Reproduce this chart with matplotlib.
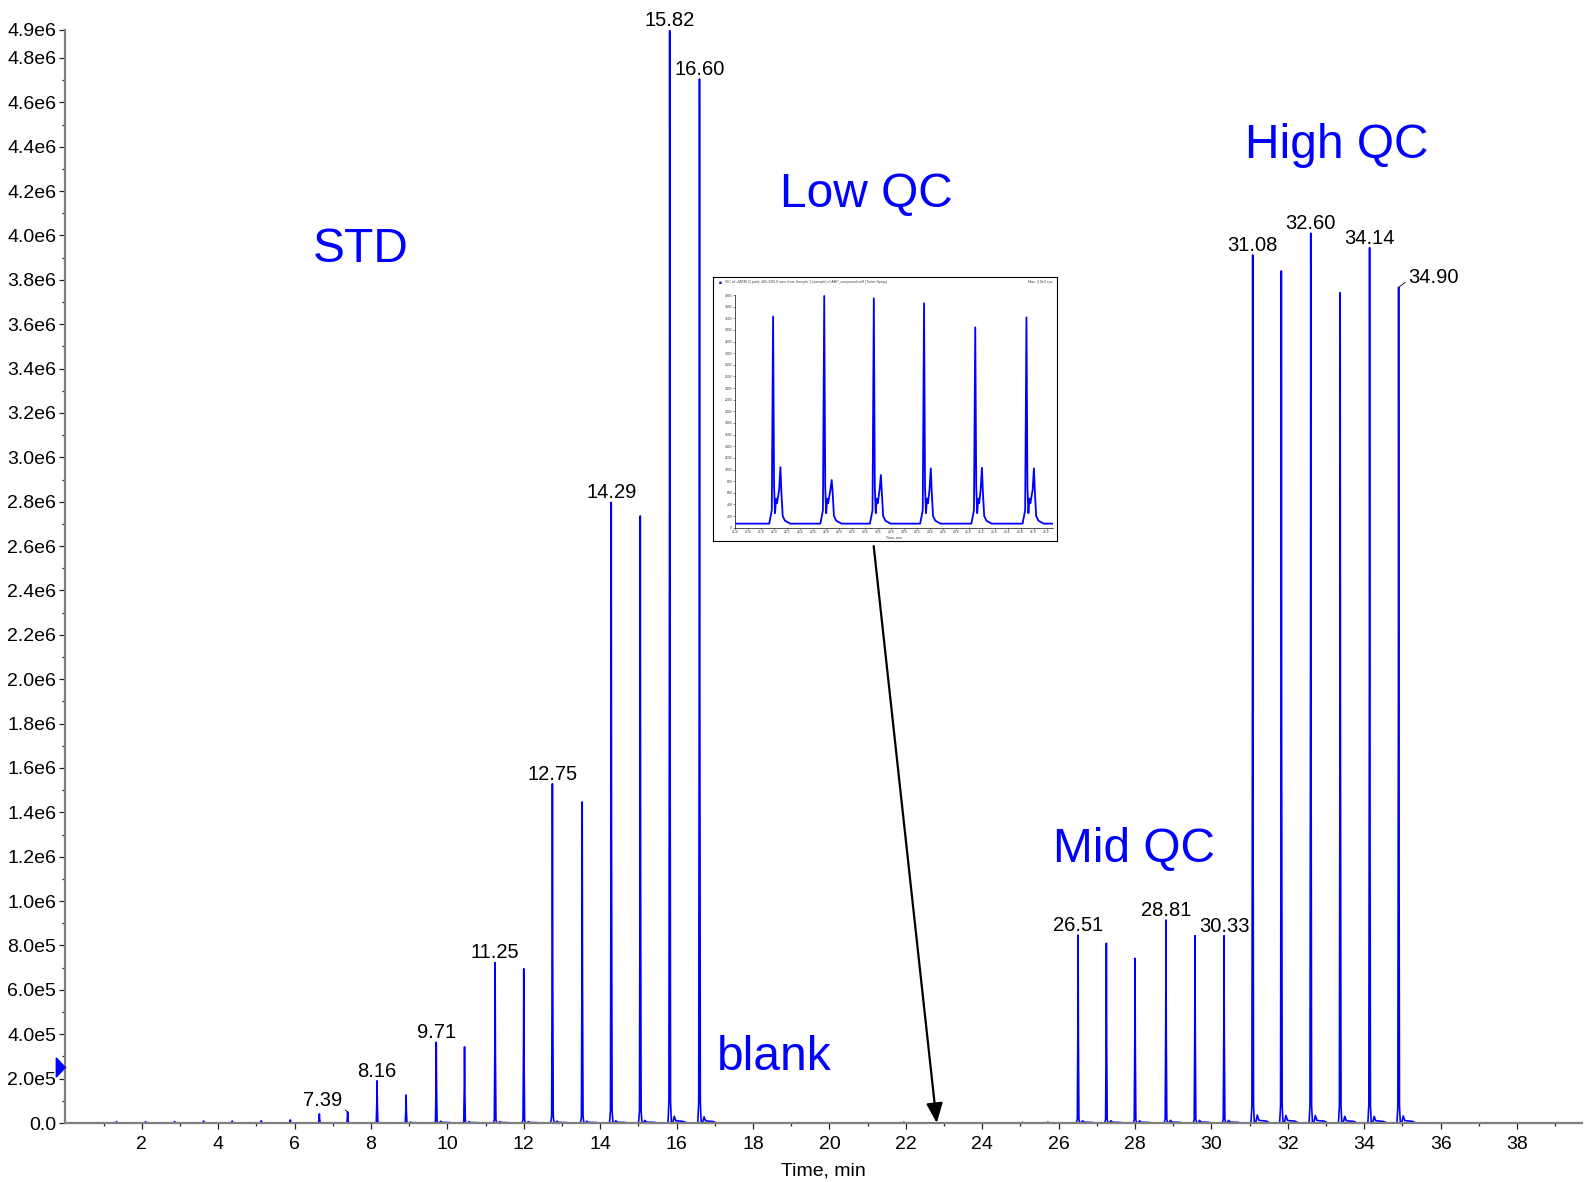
import matplotlib
matplotlib.use("Agg")
import matplotlib.pyplot as plt
from matplotlib.patches import Polygon
import numpy as np

plt.rcParams['font.family'] = ['Liberation Sans', 'DejaVu Sans']

# ---------------- data ----------------
# STD peaks (retention time, min ; intensity, cps)
std_rt = [1.34, 2.10, 2.86, 3.62, 4.37, 5.13, 5.89, 6.65, 7.39, 8.16, 8.92,
          9.71, 10.45, 11.25, 12.00, 12.75, 13.53, 14.29, 15.05, 15.82, 16.60]
std_h = [0.006e6, 0.006e6, 0.007e6, 0.009e6, 0.009e6, 0.010e6, 0.014e6,
         0.041e6, 0.050e6, 0.190e6, 0.126e6, 0.364e6, 0.343e6, 0.723e6,
         0.695e6, 1.529e6, 1.447e6, 2.797e6, 2.736e6, 4.923e6, 4.705e6]
std_tail = [0, 0, 0, 0, 0, 0, 0, 0, 0, 0, 0.004e6, 0.008e6, 0.006e6, 0.006e6,
            0.006e6, 0.008e6, 0.008e6, 0.010e6, 0.012e6, 0.030e6, 0.028e6]
# blank region
blank_rt = [21.95, 25.05, 25.72]
blank_h = [0.004e6, 0.003e6, 0.004e6]
blank_tail = [0, 0, 0]
# QC peaks (Mid QC then High QC)
qc_rt = [26.51, 27.25, 28.00, 28.81, 29.57, 30.33,
         31.08, 31.83, 32.60, 33.37, 34.14, 34.90]
qc_h = [0.847e6, 0.810e6, 0.742e6, 0.915e6, 0.844e6, 0.844e6,
        3.912e6, 3.840e6, 4.010e6, 3.742e6, 3.945e6, 3.766e6]
qc_tail = [0.010e6, 0.010e6, 0.010e6, 0.012e6, 0.012e6, 0.012e6,
           0.036e6, 0.034e6, 0.034e6, 0.030e6, 0.030e6, 0.032e6]

# labelled peaks
label_rt = [8.16, 9.71, 11.25, 12.75, 14.29, 15.82, 16.60,
            26.51, 28.81, 30.33, 31.08, 32.60, 34.14]
label_h = [0.190e6, 0.364e6, 0.723e6, 1.529e6, 2.797e6, 4.923e6, 4.705e6,
           0.847e6, 0.915e6, 0.844e6, 3.912e6, 4.010e6, 3.945e6]
leader_rt = [7.39, 34.90]
leader_h = [0.050e6, 3.766e6]

group_names = ["STD", "Low QC", "Mid QC", "High QC", "blank"]

y_max = 4.926e6
yticks = [0, 0.2e6, 0.4e6, 0.6e6, 0.8e6, 1.0e6, 1.2e6, 1.4e6, 1.6e6, 1.8e6,
          2.0e6, 2.2e6, 2.4e6, 2.6e6, 2.8e6, 3.0e6, 3.2e6, 3.4e6, 3.6e6,
          3.8e6, 4.0e6, 4.2e6, 4.4e6, 4.6e6, 4.8e6, y_max]
ytick_labels = ["0.0", "2.0e5", "4.0e5", "6.0e5", "8.0e5", "1.0e6", "1.2e6",
                "1.4e6", "1.6e6", "1.8e6", "2.0e6", "2.2e6", "2.4e6", "2.6e6",
                "2.8e6", "3.0e6", "3.2e6", "3.4e6", "3.6e6", "3.8e6", "4.0e6",
                "4.2e6", "4.4e6", "4.6e6", "4.8e6", "4.9e6"]
xticks = [2, 4, 6, 8, 10, 12, 14, 16, 18, 20, 22, 24, 26, 28, 30, 32, 34, 36, 38]

# inset (Low QC zoom) data
ins_rt = [21.987, 22.775, 23.539, 24.313, 25.102, 25.891]
ins_h = [3630, 3983, 3943, 3857, 3444, 3616]
ins_rt2 = [22.100, 22.890, 23.648, 24.417, 25.205, 26.006]
ins_h2 = [1040, 820, 905, 1020, 1030, 1020]
ins_base = 70

BLUE = "#0000FF"

# ---------------- trace builders ----------------
MAIN_OFF = [-0.045, -0.020, -0.006, 0.0, 0.008, 0.022, 0.045]
MAIN_REL = [0.0, 0.02, 0.5, 1.0, 0.45, 0.02, 0.0]
TAIL_OFF = [0.08, 0.12, 0.16, 0.22, 0.35, 0.45]
TAIL_REL = [0.0, 1.0, 0.35, 0.3, 0.25, 0.0]


def build_trace(rts, hs, tails):
    xs, ys = [0.0], [0.0]
    for rt, h, b in sorted(zip(rts, hs, tails)):
        for o, r in zip(MAIN_OFF, MAIN_REL):
            xs.append(rt + o)
            ys.append(h * r)
        if b > 0:
            for o, r in zip(TAIL_OFF, TAIL_REL):
                xs.append(rt + o)
                ys.append(b * r)
    xs.append(39.7)
    ys.append(0.0)
    return xs, ys


def build_inset(rts, hs, rts2, hs2, base):
    xs, ys = [21.4], [base]
    for rt, h, rt2, h2 in zip(rts, hs, rts2, hs2):
        xs += [rt - 0.06, rt - 0.02, rt, rt + 0.015, rt + 0.03, rt + 0.045,
               rt + 0.06, rt2 - 0.02, rt2, rt2 + 0.015, rt2 + 0.035,
               rt2 + 0.07, rt2 + 0.15]
        ys += [base, 300, h, 700, 250, 500, 420, 650, h2, 600, 200,
               120, base]
    xs.append(26.3)
    ys.append(base)
    return xs, ys


# ---------------- figure ----------------
W, H = 1585, 1182
fig = plt.figure(figsize=(W / 100, H / 100), dpi=100)

ax_l, ax_r, ax_b, ax_t = 65.3, 1582, 1123, 30
ax = fig.add_axes([ax_l / W, 1 - ax_b / H, (ax_r - ax_l) / W, (ax_b - ax_t) / H])

x_all = std_rt + blank_rt + qc_rt
h_all = std_h + blank_h + qc_h
t_all = std_tail + blank_tail + qc_tail
tx, ty = build_trace(x_all, h_all, t_all)
ax.plot(tx, ty, color=BLUE, lw=1.2, zorder=2)

ax.set_xlim(0, 39.7)
ax.set_ylim(0, y_max)

for s in ["top", "right"]:
    ax.spines[s].set_visible(False)
for s in ["left", "bottom"]:
    ax.spines[s].set_color("#7f7f7f")
    ax.spines[s].set_linewidth(1.6)

ax.set_yticks(yticks)
ax.set_yticklabels(ytick_labels)
ax.set_yticks([i * 1e5 for i in range(1, 49, 2)], minor=True)
ax.set_xticks(xticks)
ax.set_xticklabels([str(v) for v in xticks])
ax.set_xticks(list(range(1, 40, 2)), minor=True)
ax.tick_params(axis="both", which="major", labelsize=14, color="#222222",
               width=0.9, length=4.5, pad=2)
ax.tick_params(axis="both", which="minor", color="#222222", width=0.9,
               length=2.2)
ax.tick_params(axis="x", which="major", pad=5)
ax.set_xlabel("Time, min", fontsize=14, labelpad=7)

# peak labels
for rt, h in zip(label_rt, label_h):
    ax.annotate(f"{rt:.2f}", xy=(rt, h), xytext=(0, 3),
                textcoords="offset points", ha="center", va="baseline",
                fontsize=14.5, color="black", annotation_clip=False)
# labels with leader lines
ax.annotate(f"{leader_rt[0]:.2f}", xy=(leader_rt[0], leader_h[0]),
            xytext=(-18, 4.3), textcoords="offset points", ha="center",
            va="baseline", fontsize=14.5,
            arrowprops=dict(arrowstyle="-", color="black", lw=0.6,
                            shrinkA=0, shrinkB=0, relpos=(1.0, 0.1)))
ax.annotate(f"{leader_rt[1]:.2f}", xy=(leader_rt[1], leader_h[1]),
            xytext=(25, 3.3), textcoords="offset points", ha="center",
            va="baseline", fontsize=14.5,
            arrowprops=dict(arrowstyle="-", color="black", lw=0.6,
                            shrinkA=0, shrinkB=0, relpos=(0.0, 0.35)))

# blue marker on y axis
tri_w = 9 / (ax_r - ax_l)
tri_h = 0.043e6
ax.add_patch(Polygon([(-tri_w, 0.25e6 - tri_h), (0, 0.25e6),
                      (-tri_w, 0.25e6 + tri_h)], closed=True,
                     transform=ax.get_yaxis_transform(), clip_on=False,
                     color=BLUE, zorder=5))

# group names (figure pixel positions: centre x, baseline y)
name_pos = [(361, 262), (866, 207), (1134, 862), (1337, 158.5), (774, 1070)]
for name, (px, py) in zip(group_names, name_pos):
    fig.text(px / W, 1 - py / H, name, ha="center", va="baseline",
             fontsize=34.5, color=BLUE)

# arrow from inset to blank region
ax.annotate("", xy=(22.81, 0), xytext=(21.16, 2.60e6),
            arrowprops=dict(arrowstyle="-|>,head_length=0.6,head_width=0.25",
                            mutation_scale=20, lw=1.6, color="black",
                            shrinkA=0, shrinkB=0), zorder=6,
            annotation_clip=False)

# ---------------- inset ----------------
fx0, fx1, fy0, fy1 = 712.6, 1057.3, 277.0, 540.8
frame = fig.add_axes([fx0 / W, 1 - fy1 / H, (fx1 - fx0) / W, (fy1 - fy0) / H])
frame.set_xticks([])
frame.set_yticks([])
for s in frame.spines.values():
    s.set_color("black")
    s.set_linewidth(0.8)
frame.text(0.018, 0.988, "\u25A0", color="#1a1aa0", fontsize=3.5,
           transform=frame.transAxes, ha="left", va="top")
frame.text(0.035, 0.988,
           "XIC of +MRM (1 pair): 465.3/85.0 amu from Sample 1 (sample) of "
           "ABP_compound.wiff (Turbo Spray)",
           fontsize=2.6, color="#444444", transform=frame.transAxes,
           ha="left", va="top")
frame.text(0.99, 0.988, "Max. 4.0e3 cps.", fontsize=2.6, color="#444444",
           transform=frame.transAxes, ha="right", va="top")

ix0, ix1, iy0, iy1 = 735, 1053, 295, 527.7
iax = fig.add_axes([ix0 / W, 1 - iy1 / H, (ix1 - ix0) / W, (iy1 - iy0) / H])
ixs, iys = build_inset(ins_rt, ins_h, ins_rt2, ins_h2, ins_base)
iax.plot(ixs, iys, color=BLUE, lw=1.3)
iax.set_xlim(21.4, 26.3)
iax.set_ylim(0, 4000)
for s in ["top", "right"]:
    iax.spines[s].set_visible(False)
for s in ["left", "bottom"]:
    iax.spines[s].set_linewidth(0.6)
    iax.spines[s].set_color("#333333")
ixt = [round(21.4 + 0.2 * i, 1) for i in range(25)]
iax.set_xticks(ixt)
iax.set_xticklabels([f"{v:.1f}" for v in ixt])
iyt = list(range(0, 4001, 200))
iax.set_yticks(iyt)
iax.set_yticklabels([str(v) for v in iyt])
iax.tick_params(labelsize=2.4, length=1.2, width=0.4, pad=0.8,
                colors="#333333")
iax.set_xlabel("Time, min", fontsize=2.6, labelpad=0.5, color="#333333")

fig.savefig("out.png", dpi=100)
